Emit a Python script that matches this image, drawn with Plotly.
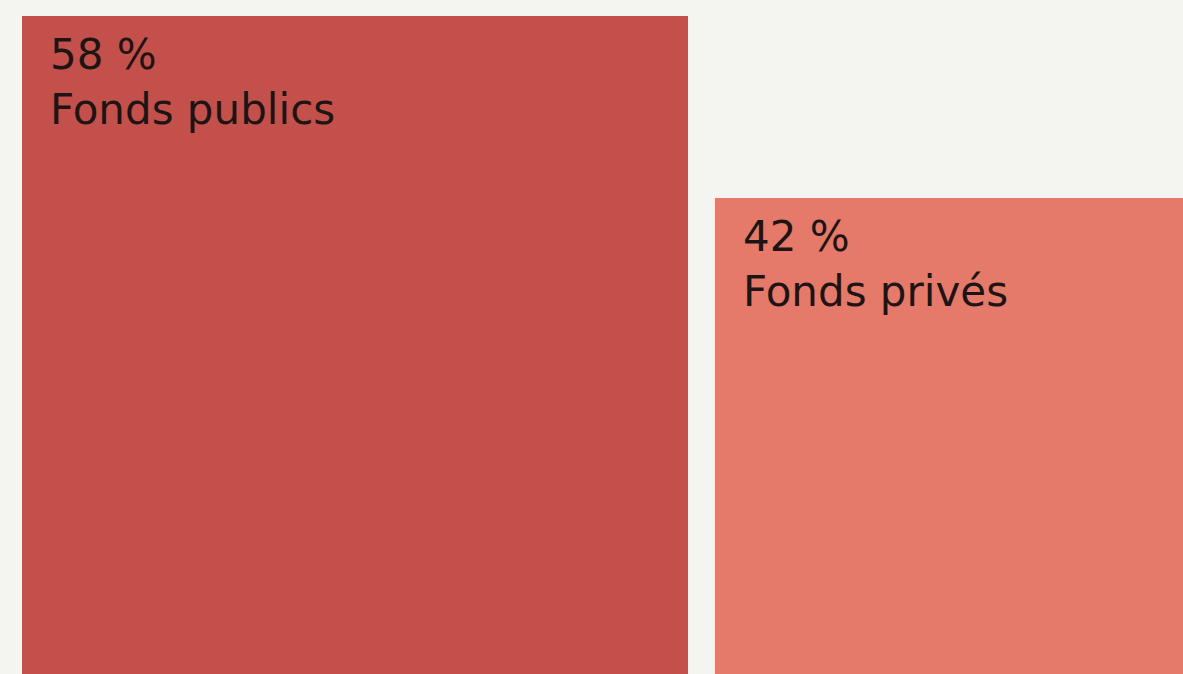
import plotly.graph_objects as go

categories = ["Fonds publics", "Fonds privés"]
values = [58, 42]
labels = ["58 %", "42 %"]
colors = ["#c4504b", "#e5796a"]

gap = 2.35
lefts = []
pos = 0.0
for v in values:
    lefts.append(pos)
    pos += v + gap

fig = go.Figure()
fig.add_trace(go.Bar(
    x=lefts, y=values, width=values, offset=0,
    marker=dict(color=colors, line=dict(width=0)),
    hoverinfo="skip", showlegend=False,
))

for left, v, lab, cat in zip(lefts, values, labels, categories):
    fig.add_annotation(
        x=left, y=v, xref="x", yref="y",
        text=f"{lab}<br>{cat}", showarrow=False,
        xanchor="left", yanchor="top", align="left",
        xshift=26, yshift=-12,
        font=dict(family="DejaVu Sans", size=42, color="#1e1414"),
    )

fig.update_layout(
    width=1183, height=674,
    margin=dict(l=0, r=0, t=0, b=0),
    paper_bgcolor="#f4f4f0", plot_bgcolor="#f4f4f0",
    bargap=0,
    xaxis=dict(range=[-1.92, 101.1], visible=False, fixedrange=True),
    yaxis=dict(range=[0, 59.41], visible=False, fixedrange=True),
)

fig.write_html(
    "out.html",
    config={"displayModeBar": False},
    post_script="document.body.style.margin='0';document.body.style.background='#f4f4f0';document.body.style.overflow='hidden';",
)
